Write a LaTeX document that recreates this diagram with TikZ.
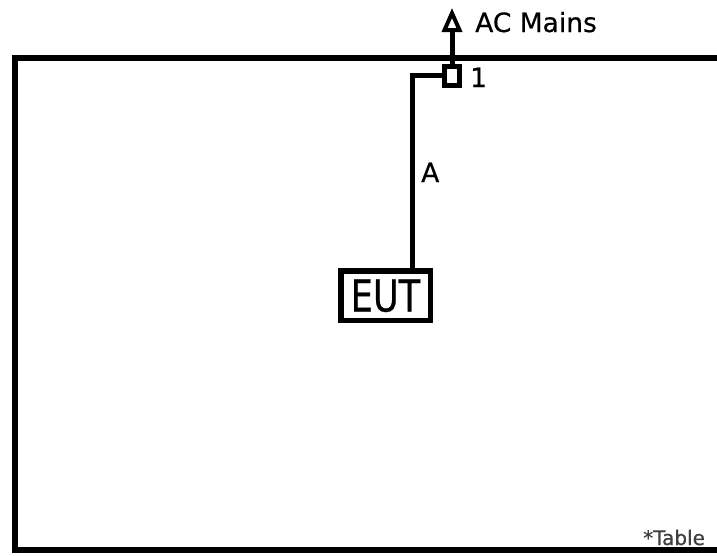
\documentclass[tikz,border=0pt]{standalone}
\usepackage{fontspec}
\setmainfont{DejaVu Sans}[FakeBold=0.8]
\newfontfamily\lblfont{DejaVu Sans}[FakeBold=0.6]
\usetikzlibrary{arrows.meta}
\begin{document}
\begin{tikzpicture}[x=1pt,y=-1pt,
  wire/.style={line width=5pt},
  lbl/.style={inner sep=0pt,anchor=base west,font=\lblfont\fontsize{26.5}{30}\selectfont},
  port/.style={draw,line width=5pt,minimum width=15pt,minimum height=19pt,inner sep=0pt},
  eutbox/.style={draw,line width=5.5pt,minimum width=89.5pt,minimum height=49.5pt,inner sep=0pt}]
\useasboundingbox (0,0) rectangle (717,555);
\begin{scope}
\clip (0,0) rectangle (717,555);
\draw[line width=6.5pt] (740,58) -- (15,58) -- (15,550) -- (740,550);
\end{scope}
\node[port] (sq) at (452,75.5) {};
\node[eutbox] (eut) at (385.5,295.5) {};
\node[inner sep=0pt,anchor=base,xscale=0.8,font=\lblfont\fontsize{44}{50}\selectfont] (euttxt) at (385.5,311.5) {EUT};
\coordinate (bend) at (412,75.5);
\coordinate (tip) at (452,8);
\draw[wire,line join=miter] (sq.west) -- (bend) -- (bend |- eut.north);
\draw[wire,-{Triangle[open,length=24pt,width=20pt,line width=4pt]}] (sq.north) -- (tip);
\node[lbl] (mains) at (475,32) {AC Mains};
\node[lbl] (one) at (470,87) {1};
\node[lbl] (a) at (421,182) {A};
\node[inner sep=0pt,anchor=base west,font=\lblfont\fontsize{20}{22}\selectfont,text=black!75] (table) at (643,545) {*Table};
\end{tikzpicture}
\end{document}
